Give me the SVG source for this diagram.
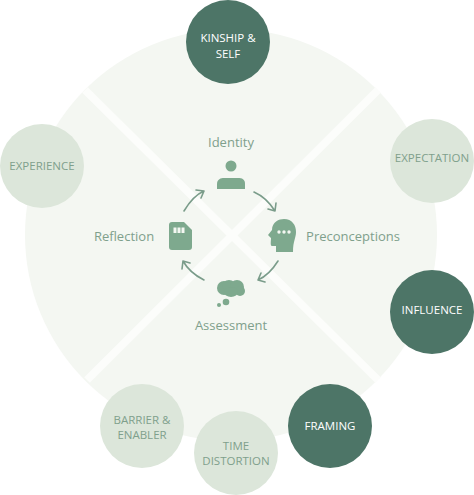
<svg xmlns="http://www.w3.org/2000/svg" width="474" height="495" viewBox="0 0 474 495">
<style>
text{font-family:"Open Sans","Noto Sans",sans-serif;text-anchor:middle}
.l{font-size:13px;fill:#7fa08c}
.m{font-size:11.5px;fill:#7fa08c;font-weight:500}
.w{font-size:11.5px;fill:#fff;font-weight:500}
.lt{fill:#dce6da}
.dk{fill:#4d7567}
.ic{fill:#7ea98e}
.ar{fill:none;stroke:#7a9c8a;stroke-width:1.6;stroke-linecap:round;stroke-linejoin:round}
</style>
<rect width="474" height="495" fill="#fff"/>
<circle cx="231" cy="235" r="206" fill="#f4f7f2"/>
<g id="connectors">
<path d="M85 90L378 380M378 90L87 380" stroke="#fcfdfb" stroke-width="8" fill="none"/>
<path class="ar" d="M184 211C190 201 197 194 204 191M196 190L204 191L201 198"/>
<path class="ar" d="M254 192C263 196 270 203 275 211M276 203L275 211L268 209"/>
<path class="ar" d="M278 261C273 269 267 276 258 280M265 282L258 280L261 273"/>
<path class="ar" d="M204 280C196 276 188 270 183 261M182 269L183 261L190 263"/>
</g>
<g id="identity"><circle class="ic" cx="231" cy="166" r="5.5"/><path class="ic" d="M217 189V184C217 179 221 178 224 178H238C242 178 245 179 245 184V189Z"/><text class="l" x="231" y="147">Identity</text></g>
<g id="preconceptions"><path class="ic" d="M268 235L272 230C272 222 279 219 284 219C292 219 296 225 296 232C296 238 293 241 293 252H276V246H272C270 246 271 241 271 238Z"/><circle cx="279" cy="232" r="1.7" fill="#f4f7f2"/><circle cx="284" cy="232" r="1.7" fill="#f4f7f2"/><circle cx="289" cy="232" r="1.7" fill="#f4f7f2"/><text class="l" x="353" y="241">Preconceptions</text></g>
<g id="assessment"><ellipse class="ic" cx="224" cy="288" rx="7" ry="7"/><ellipse class="ic" cx="229" cy="286" rx="7" ry="6"/><ellipse class="ic" cx="237" cy="287" rx="7" ry="7"/><ellipse class="ic" cx="240" cy="291" rx="5" ry="5"/><ellipse class="ic" cx="231" cy="292" rx="7" ry="5"/><circle class="ic" cx="226" cy="302" r="3.3"/><circle class="ic" cx="219" cy="305" r="2"/><text class="l" x="231" y="330">Assessment</text></g>
<g id="reflection"><path class="ic" d="M172 222H184L192 230V247C192 249 191 250 189 250H172C170 250 169 249 169 247V225C169 223 170 222 172 222Z"/><path fill="#f4f7f2" d="M173.500 227.500h3v5.500h-3zM177.500 227.500h3v5.500h-3zM181.500 227.500h3v5.500h-3z"/><text class="l" x="124" y="241">Reflection</text></g>
<g id="kinship"><circle class="dk" cx="228" cy="42" r="42"/><text class="w" x="228" y="42">KINSHIP &amp;</text><text class="w" x="228" y="58">SELF</text></g>
<g id="experience"><circle class="lt" cx="42" cy="166" r="42"/><text class="m" x="42" y="170">EXPERIENCE</text></g>
<g id="expectation"><circle class="lt" cx="432" cy="161" r="42"/><text class="m" x="432" y="162">EXPECTATION</text></g>
<g id="influence"><circle class="dk" cx="432" cy="312" r="42"/><text class="w" x="432" y="314">INFLUENCE</text></g>
<g id="framing"><circle class="dk" cx="330" cy="426" r="42"/><text class="w" x="330" y="430">FRAMING</text></g>
<g id="time"><circle class="lt" cx="236" cy="453" r="42"/><text class="m" x="236" y="450">TIME</text><text class="m" x="236" y="465">DISTORTION</text></g>
<g id="barrier"><circle class="lt" cx="142" cy="426" r="42"/><text class="m" x="142" y="424">BARRIER &amp;</text><text class="m" x="142" y="439">ENABLER</text></g>
</svg>
